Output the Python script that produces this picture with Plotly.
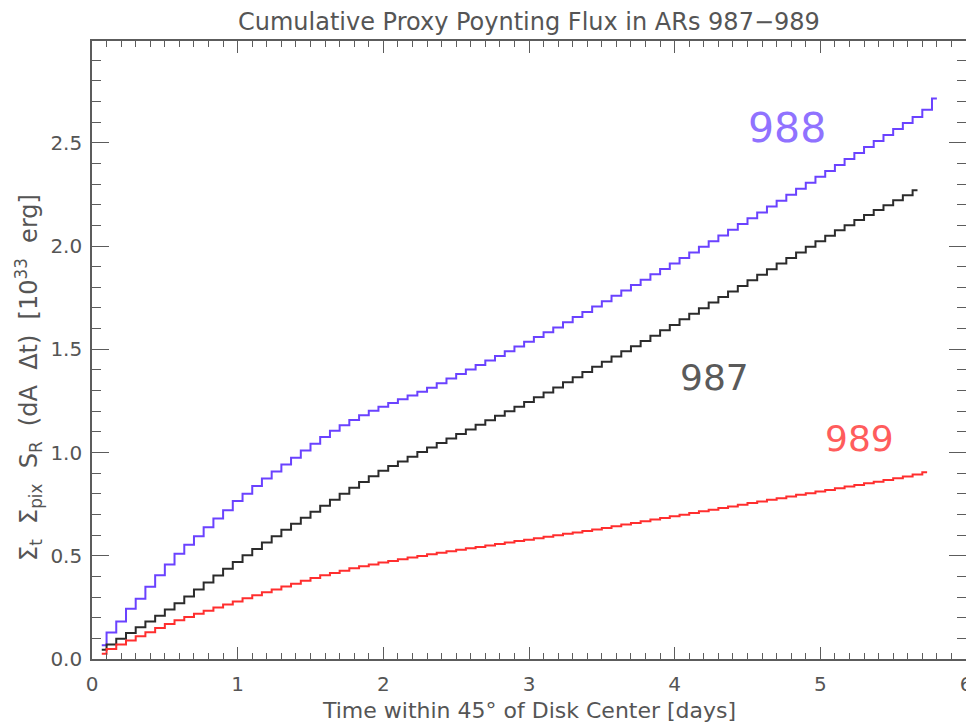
import plotly.graph_objects as go

# ---------------- data ----------------
TIME_DAYS = [
    0.067, 0.133, 0.200, 0.267, 0.333, 0.400, 0.467, 0.533, 0.600, 0.667,
    0.733, 0.800, 0.867, 0.933, 1.000, 1.067, 1.133, 1.200, 1.267, 1.333,
    1.400, 1.467, 1.533, 1.600, 1.667, 1.733, 1.800, 1.867, 1.933, 2.000,
    2.067, 2.133, 2.200, 2.267, 2.333, 2.400, 2.467, 2.533, 2.600, 2.667,
    2.733, 2.800, 2.867, 2.933, 3.000, 3.067, 3.133, 3.200, 3.267, 3.333,
    3.400, 3.467, 3.533, 3.600, 3.667, 3.733, 3.800, 3.867, 3.933, 4.000,
    4.067, 4.133, 4.200, 4.267, 4.333, 4.400, 4.467, 4.533, 4.600, 4.667,
    4.733, 4.800, 4.867, 4.933, 5.000, 5.067, 5.133, 5.200, 5.267, 5.333,
    5.400, 5.467, 5.533, 5.600, 5.667, 5.733, 5.800,
]

AR988 = [
    0.066, 0.128, 0.182, 0.243, 0.292, 0.350, 0.405, 0.458, 0.510, 0.553,
    0.595, 0.638, 0.680, 0.720, 0.765, 0.800, 0.838, 0.874, 0.908, 0.942,
    0.975, 1.010, 1.043, 1.075, 1.105, 1.132, 1.158, 1.180, 1.202, 1.222,
    1.240, 1.258, 1.276, 1.294, 1.314, 1.336, 1.358, 1.380, 1.402, 1.424,
    1.446, 1.468, 1.490, 1.513, 1.536, 1.559, 1.582, 1.606, 1.631, 1.656,
    1.681, 1.707, 1.733, 1.759, 1.785, 1.811, 1.837, 1.863, 1.889, 1.915,
    1.942, 1.969, 1.996, 2.023, 2.051, 2.079, 2.107, 2.135, 2.163, 2.191,
    2.219, 2.248, 2.277, 2.306, 2.335, 2.364, 2.393, 2.422, 2.451, 2.480,
    2.509, 2.538, 2.567, 2.596, 2.625, 2.660, 2.715,
]

AR987 = [
    0.045, 0.070, 0.098, 0.126, 0.154, 0.182, 0.210, 0.240, 0.270, 0.303,
    0.336, 0.370, 0.404, 0.437, 0.470, 0.502, 0.533, 0.564, 0.595, 0.626,
    0.655, 0.684, 0.713, 0.742, 0.771, 0.800, 0.829, 0.857, 0.885, 0.912,
    0.935, 0.957, 0.980, 1.002, 1.024, 1.046, 1.068, 1.090, 1.112, 1.134,
    1.156, 1.178, 1.200, 1.222, 1.245, 1.268, 1.291, 1.315, 1.340, 1.365,
    1.390, 1.415, 1.440, 1.465, 1.490, 1.515, 1.540, 1.566, 1.592, 1.618,
    1.645, 1.672, 1.699, 1.726, 1.753, 1.780, 1.807, 1.834, 1.861, 1.888,
    1.915, 1.942, 1.969, 1.996, 2.023, 2.050, 2.076, 2.101, 2.126, 2.150,
    2.174, 2.198, 2.222, 2.246, 2.270,
]

AR989 = [
    0.025, 0.048, 0.070, 0.090, 0.110, 0.130, 0.150, 0.170, 0.188, 0.204,
    0.219, 0.234, 0.249, 0.264, 0.279, 0.294, 0.309, 0.323, 0.337, 0.351,
    0.365, 0.379, 0.392, 0.405, 0.417, 0.428, 0.439, 0.449, 0.458, 0.467,
    0.475, 0.483, 0.491, 0.499, 0.507, 0.515, 0.522, 0.529, 0.536, 0.543,
    0.550, 0.557, 0.564, 0.571, 0.578, 0.585, 0.592, 0.599, 0.606, 0.613,
    0.620, 0.627, 0.635, 0.643, 0.651, 0.659, 0.667, 0.675, 0.683, 0.691,
    0.699, 0.707, 0.715, 0.723, 0.731, 0.739, 0.747, 0.755, 0.763, 0.771,
    0.779, 0.787, 0.795, 0.803, 0.811, 0.819, 0.827, 0.835, 0.843, 0.851,
    0.859, 0.867, 0.875, 0.884, 0.893, 0.905,
]

X_TICKS = [0, 1, 2, 3, 4, 5, 6]
X_TICK_LABELS = ["0", "1", "2", "3", "4", "5", "6"]
Y_TICKS = [0.0, 0.5, 1.0, 1.5, 2.0, 2.5]
Y_TICK_LABELS = ["0.0", "0.5", "1.0", "1.5", "2.0", "2.5"]

SERIES_NAMES = ["988", "987", "989"]

# ---------------- styling ----------------
FONT = "DejaVu Sans"
AXIS_COLOR = "#5c5c5c"
TEXT_COLOR = "#555555"
LINE_COLORS = {"988": "#6a42ff", "987": "#2b2b2b", "989": "#ff2e2e"}
LABEL_COLORS = {"988": "#9072ff", "987": "#5a5a5a", "989": "#ff5c5c"}

series = {"988": AR988, "987": AR987, "989": AR989}

fig = go.Figure()
for name in SERIES_NAMES:
    vals = series[name]
    fig.add_trace(go.Scatter(
        x=TIME_DAYS[:len(vals)], y=vals, mode="lines",
        line=dict(shape="hvh", color=LINE_COLORS[name], width=2),
        name=name, showlegend=False, hoverinfo="skip",
    ))

# series labels in data coordinates
label_pos = {"988": (4.77, 2.57, 41), "987": (4.27, 1.365, 36), "989": (5.27, 1.066, 36)}
for name in SERIES_NAMES:
    lx, ly, fs = label_pos[name]
    fig.add_annotation(x=lx, y=ly, xref="x", yref="y", text=name, showarrow=False,
                       font=dict(family=FONT, size=fs, color=LABEL_COLORS[name]),
                       xanchor="center", yanchor="middle")

common_axis = dict(
    showline=True, linecolor=AXIS_COLOR, linewidth=1.6, mirror="ticks",
    ticks="inside", tickcolor=AXIS_COLOR, tickwidth=1.4,
    showgrid=False, zeroline=False, automargin=False,
    tickfont=dict(family=FONT, size=20, color=TEXT_COLOR),
)

fig.update_xaxes(
    range=[0, 6], tickmode="array", tickvals=X_TICKS, ticktext=X_TICK_LABELS,
    ticklen=12, ticklabelstandoff=6,
    minor=dict(tickmode="linear", tick0=0, dtick=0.1, ticks="inside", ticklen=6,
               tickcolor=AXIS_COLOR, tickwidth=1.2),
    **common_axis,
)
fig.update_yaxes(
    range=[0, 2.993], tickmode="array", tickvals=Y_TICKS, ticktext=Y_TICK_LABELS,
    ticklen=17, ticklabelstandoff=4,
    minor=dict(tickmode="linear", tick0=0, dtick=0.1, ticks="inside", ticklen=9,
               tickcolor=AXIS_COLOR, tickwidth=1.2),
    **common_axis,
)

# the page body adds an 8px offset, so the figure is sized to the remaining area
W, H = 966, 716
L, R, T, B = 84, 8, 33, 65
plot_w = W - L - R
plot_h = H - T - B

def px(pixel_x):
    return (pixel_x - L) / plot_w

def py(pixel_y):
    return (H - B - pixel_y) / plot_h

NB = "\u00a0"
# title and axis titles
fig.add_annotation(text="Cumulative Proxy Poynting Flux in ARs 987\u2212989",
                   xref="paper", yref="paper", x=0.5, y=py(14), showarrow=False,
                   xanchor="center", yanchor="middle",
                   font=dict(family=FONT, size=24, color=TEXT_COLOR))
fig.add_annotation(text="Time within 45\u00b0 of Disk Center [days]",
                   xref="paper", yref="paper", x=0.5, y=py(702), showarrow=False,
                   xanchor="center", yanchor="middle",
                   font=dict(family=FONT, size=22, color=TEXT_COLOR))
fig.add_annotation(text=("\u03a3<sub>t</sub>" + NB + " \u03a3<sub>pix</sub>" + NB + " S<sub>R</sub>" + NB +
                         " (dA" + NB + " \u0394t)" + NB + " [10<sup>33</sup>" + NB + " erg]"),
                   xref="paper", yref="paper", x=px(20), y=py(370),
                   showarrow=False, textangle=-90, xanchor="center", yanchor="middle",
                   font=dict(family=FONT, size=24, color=TEXT_COLOR))

fig.update_layout(
    width=W, height=H,
    margin=dict(l=L, r=R, t=T, b=B, pad=0, autoexpand=False),
    paper_bgcolor="white", plot_bgcolor="white",
    showlegend=False,
)

fig.write_html("out.html")
